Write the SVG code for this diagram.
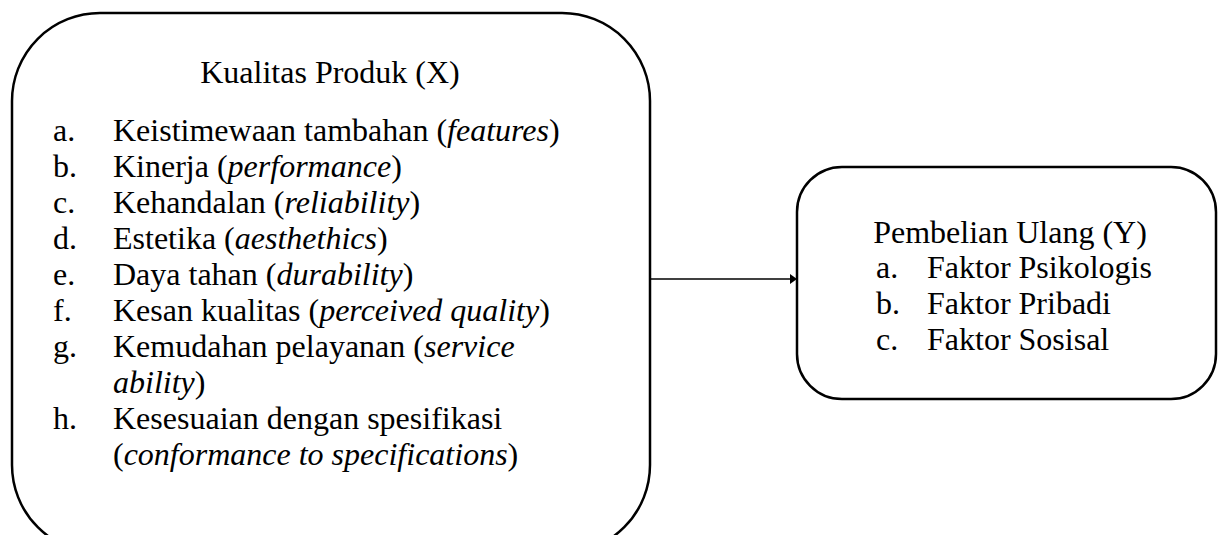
<svg xmlns="http://www.w3.org/2000/svg" width="1218" height="535" viewBox="0 0 1218 535" font-family="Liberation Serif">
<rect width="1218" height="535" fill="#fff"/>
<g id="node-x" font-family="Liberation Serif" style="font-family:'Liberation Serif' !important">
<rect x="12" y="13" width="638" height="540" rx="88" ry="88" fill="#fff" stroke="#000" stroke-width="2.5"/>
<text x="330" y="83" text-anchor="middle" font-size="32" style="font-family:'Liberation Serif' !important">Kualitas Produk (X)</text>
<text x="53" y="141" font-size="32" style="font-family:'Liberation Serif' !important">a.</text>
<text x="113" y="141" font-size="32" style="font-family:'Liberation Serif' !important">Keistimewaan tambahan (<tspan font-style="italic" style="font-family:'Liberation Serif' !important">features</tspan>)</text>
<text x="53" y="177" font-size="32" style="font-family:'Liberation Serif' !important">b.</text>
<text x="113" y="177" font-size="32" style="font-family:'Liberation Serif' !important">Kinerja (<tspan font-style="italic" style="font-family:'Liberation Serif' !important">performance</tspan>)</text>
<text x="53" y="213" font-size="32" style="font-family:'Liberation Serif' !important">c.</text>
<text x="113" y="213" font-size="32" style="font-family:'Liberation Serif' !important">Kehandalan (<tspan font-style="italic" style="font-family:'Liberation Serif' !important">reliability</tspan>)</text>
<text x="53" y="249" font-size="32" style="font-family:'Liberation Serif' !important">d.</text>
<text x="113" y="249" font-size="32" style="font-family:'Liberation Serif' !important">Estetika (<tspan font-style="italic" style="font-family:'Liberation Serif' !important">aesthethics</tspan>)</text>
<text x="53" y="285" font-size="32" style="font-family:'Liberation Serif' !important">e.</text>
<text x="113" y="285" font-size="32" style="font-family:'Liberation Serif' !important">Daya tahan (<tspan font-style="italic" style="font-family:'Liberation Serif' !important">durability</tspan>)</text>
<text x="53" y="321" font-size="32" style="font-family:'Liberation Serif' !important">f.</text>
<text x="113" y="321" font-size="32" style="font-family:'Liberation Serif' !important">Kesan kualitas (<tspan font-style="italic" style="font-family:'Liberation Serif' !important">perceived quality</tspan>)</text>
<text x="53" y="357" font-size="32" style="font-family:'Liberation Serif' !important">g.</text>
<text x="113" y="357" font-size="32" style="font-family:'Liberation Serif' !important">Kemudahan pelayanan (<tspan font-style="italic" style="font-family:'Liberation Serif' !important">service</tspan></text>
<text x="113" y="393" font-size="32" style="font-family:'Liberation Serif' !important"><tspan font-style="italic" style="font-family:'Liberation Serif' !important">ability</tspan>)</text>
<text x="53" y="429" font-size="32" style="font-family:'Liberation Serif' !important">h.</text>
<text x="113" y="429" font-size="32" style="font-family:'Liberation Serif' !important">Kesesuaian dengan spesifikasi</text>
<text x="113" y="465" font-size="32" style="font-family:'Liberation Serif' !important">(<tspan font-style="italic" style="font-family:'Liberation Serif' !important">conformance to specifications</tspan>)</text>
</g>
<g id="node-y" font-family="Liberation Serif" style="font-family:'Liberation Serif' !important">
<rect x="797" y="167" width="419" height="232" rx="45" ry="45" fill="#fff" stroke="#000" stroke-width="2.5"/>
<text x="1010" y="243" text-anchor="middle" font-size="32" style="font-family:'Liberation Serif' !important">Pembelian Ulang (Y)</text>
<text x="876" y="278" font-size="32" style="font-family:'Liberation Serif' !important">a.</text>
<text x="927" y="278" font-size="32" style="font-family:'Liberation Serif' !important">Faktor Psikologis</text>
<text x="876" y="314" font-size="32" style="font-family:'Liberation Serif' !important">b.</text>
<text x="927" y="314" font-size="32" style="font-family:'Liberation Serif' !important">Faktor Pribadi</text>
<text x="876" y="350" font-size="32" style="font-family:'Liberation Serif' !important">c.</text>
<text x="927" y="350" font-size="32" style="font-family:'Liberation Serif' !important">Faktor Sosisal</text>
</g>
<g id="connectors">
<line x1="651" y1="279" x2="791" y2="279" stroke="#000" stroke-width="1.3"/>
<path d="M790,274 L797,279 L790,284 Z" fill="#000"/>
</g>
</svg>
